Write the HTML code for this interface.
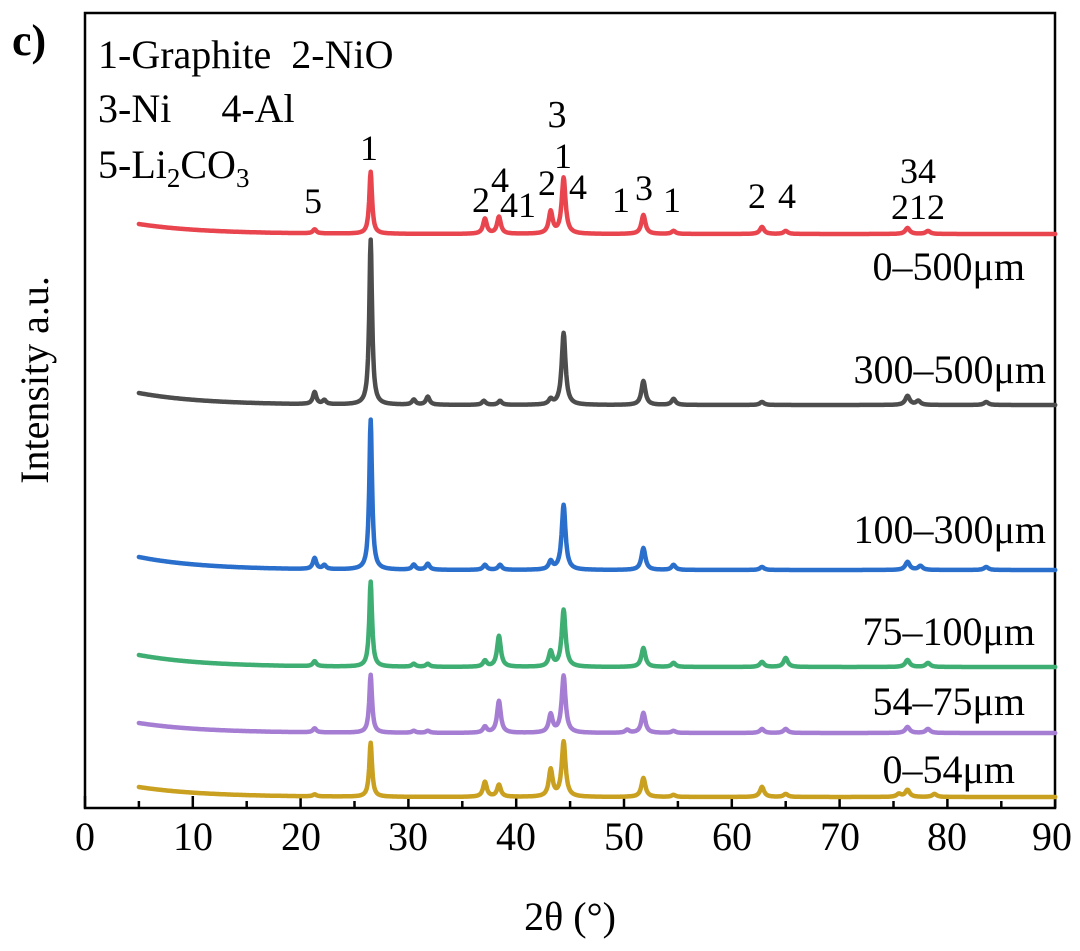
<!DOCTYPE html>
<html><head><meta charset="utf-8"><style>
html,body{margin:0;padding:0;background:#fff;}
svg{display:block;}
text{font-family:"Liberation Serif","Times New Roman",Times,"DejaVu Serif","Noto Serif CJK SC",serif;}
</style></head><body>
<svg id="s" width="1080" height="951" viewBox="0 0 1080 951" xmlns="http://www.w3.org/2000/svg">
<rect x="85" y="13" width="970" height="795" fill="none" stroke="#000" stroke-width="2.5"/>
<g id="ticks" stroke="#000" stroke-width="2.5"></g>
<g id="curves" fill="none" stroke-width="4.5" stroke-linejoin="round" stroke-linecap="round"></g>
<g font-size="40" text-anchor="middle" fill="#000">
<text x="85" y="850">0</text><text x="193" y="850">10</text><text x="301" y="850">20</text><text x="408" y="850">30</text><text x="516" y="850">40</text><text x="624" y="850">50</text><text x="732" y="850">60</text><text x="840" y="850">70</text><text x="947" y="850">80</text><text x="1052" y="850">90</text>
<text x="570" y="930">2θ (°)</text>
<text transform="translate(48,380) rotate(-90)">Intensity a.u.</text>
</g>
<text x="12" y="55" font-size="44" font-weight="bold">c)</text>
<g font-size="40">
<text x="98" y="68" xml:space="preserve">1-Graphite  2-NiO</text>
<text x="98" y="122" xml:space="preserve">3-Ni     4-Al</text>
<text x="98" y="178">5-Li<tspan font-size="27" dy="9">2</tspan><tspan dy="-9">CO</tspan><tspan font-size="27" dy="9">3</tspan></text>
</g>
<g font-size="36" text-anchor="middle">
<text x="313" y="213">5</text><text x="369" y="160">1</text>
<text x="481" y="212">2</text><text x="500" y="192">4</text><text x="518" y="217">41</text>
<text x="547" y="195">2</text><text x="563" y="168">1</text><text x="557" y="127" font-size="38">3</text><text x="578" y="199">4</text>
<text x="621" y="212">1</text><text x="644" y="200">3</text><text x="672" y="212">1</text>
<text x="757" y="208">2</text><text x="787" y="208">4</text>
<text x="918" y="183">34</text><text x="918" y="219">212</text>
</g>
<g font-size="40" text-anchor="end">
<text x="1025" y="280">0–500μm</text>
<text x="1046" y="383">300–500μm</text>
<text x="1046" y="543">100–300μm</text>
<text x="1035" y="645">75–100μm</text>
<text x="1025" y="715">54–75μm</text>
<text x="1015" y="783">0–54μm</text>
</g>
</svg>
<script>
var X=function(d){return 85+10.78*d;};
var t=document.getElementById('ticks'),h='';
for(var d=0;d<=90;d+=5){var x=X(d);h+='<line x1="'+x+'" y1="808" x2="'+x+'" y2="'+(d%10==0?796:801)+'"/>';}
t.innerHTML=h;
var S=[
{c:'#e8454f',b:234,s:10,p:[[21.3,4],[26.5,62],[37.1,15],[38.4,17],[43.2,22],[44.4,56],[51.8,19],[54.6,3],[62.8,7],[65,3],[76.3,6],[78.2,3]]},
{c:'#4d4d4d',b:405,s:12,p:[[21.3,12],[22.2,4],[26.5,165],[30.5,5],[31.8,8],[37,4],[38.5,4],[43.2,5],[44.4,72],[51.8,24],[54.6,6],[62.8,3],[76.3,9],[77.3,4],[83.6,3]]},
{c:'#2a6fcc',b:570,s:13,p:[[21.3,11],[22.2,4],[26.5,150],[30.5,5],[31.8,6],[37.1,5],[38.5,5],[43.2,8],[44.4,65],[51.8,22],[54.6,5],[62.8,3],[76.3,8],[77.5,4],[83.6,3]]},
{c:'#3fae72',b:667,s:12,p:[[21.3,5],[26.5,85],[30.5,3],[31.8,3],[37.1,6],[38.4,31],[43.2,15],[44.4,57],[51.8,19],[54.6,4],[62.8,5],[65,9],[76.3,7],[78.2,4]]},
{c:'#a57ed3',b:733,s:10,p:[[21.3,4],[26.5,58],[30.5,2],[31.8,2],[37.1,6],[38.4,32],[43.2,18],[44.4,57],[50.3,3],[51.8,20],[54.6,2],[62.8,4],[65,4],[76.3,6],[78.2,4]]},
{c:'#c9a020',b:797,s:10,p:[[21.3,2],[26.5,54],[37.1,15],[38.4,12],[43.2,27],[44.4,55],[51.8,19],[54.6,2],[62.8,10],[65,3],[75.5,3],[76.3,7],[78.8,3]]}
];
var g='';
S.forEach(function(s){var pts=[];
for(var d=5;d<=90;d+=0.05){var y=s.b;y-=s.s*Math.exp(-(d-5)/6);
s.p.forEach(function(p){var w=(p[0]==26.5?0.13:0.17)+p[0]*0.001;var u=(d-p[0])/w;y-=p[1]/(1+u*u);});
pts.push(X(d).toFixed(1)+','+y.toFixed(1));}
g+='<polyline stroke="'+s.c+'" points="'+pts.join(' ')+'"/>';});
document.getElementById('curves').innerHTML=g;
</script>
</body></html>
